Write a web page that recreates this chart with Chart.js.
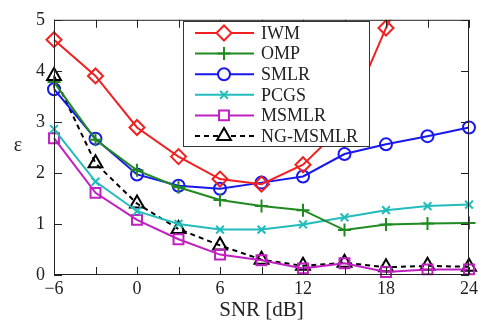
<!DOCTYPE html>
<html>
<head>
<meta charset="utf-8">
<script src="https://cdn.jsdelivr.net/npm/chart.js@4"></script>
<style>
  body { margin: 0; background: #fff; }
  #chart { display: block; }
</style>
</head>
<body>
<canvas id="chart" width="482" height="323"></canvas>
<script>
// SNR values (dB)
const snr = [-6, -3, 0, 3, 6, 9, 12, 15, 18, 21, 24];

// error per method
const iwm     = [4.61, 3.90, 2.89, 2.32, 1.88, 1.78, 2.16, 2.95, 4.84, 6.5, 8.0];
const omp     = [3.78, 2.65, 2.05, 1.72, 1.47, 1.35, 1.27, 0.88, 0.99, 1.01, 1.02];
const smlr    = [3.64, 2.67, 1.97, 1.75, 1.69, 1.81, 1.93, 2.37, 2.56, 2.72, 2.89];
const pcgs    = [2.86, 1.83, 1.25, 1.00, 0.89, 0.89, 0.99, 1.13, 1.27, 1.35, 1.38];
const msmlr   = [2.68, 1.61, 1.08, 0.70, 0.40, 0.29, 0.13, 0.23, 0.06, 0.11, 0.11];
const ngmsmlr = [3.90, 2.19, 1.40, 0.90, 0.58, 0.30, 0.18, 0.24, 0.15, 0.18, 0.16];

const xTicks = [-6, 0, 6, 12, 18, 24];
const yTicks = [0, 1, 2, 3, 4, 5];

const FONT = '"Liberation Serif", "DejaVu Serif", serif';

function series(label, values, color, style, radius, dash) {
    return {
        label: label,
        data: values.map((v, i) => ({ x: snr[i], y: v })),
        borderColor: color,
        backgroundColor: 'rgba(0,0,0,0)',
        borderWidth: 2,
        borderDash: dash || [],
        pointStyle: style,
        pointRadius: radius,
        pointBorderColor: color,
        pointBorderWidth: 2,
        pointBackgroundColor: 'rgba(0,0,0,0)',
        tension: 0,
        // keep markers on the frame visible, cut only at the top
        clip: { left: 12, right: 12, bottom: 12, top: 0 }
    };
}

const datasets = [
    series('IWM', iwm, '#f22020', 'rectRot', 7.5),
    series('OMP', omp, '#1f8a1f', 'cross', 6.5),
    series('SMLR', smlr, '#1818ee', 'circle', 6),
    series('PCGS', pcgs, '#22bcbc', 'crossRot', 5.5),
    series('MSMLR', msmlr, '#c020c0', 'rect', 7),
    series('NG-MSMLR', ngmsmlr, '#000000', 'triangle', 8, [5, 4])
];

// frame, inward ticks, epsilon label and the boxed legend
const decorations = {
    id: 'decorations',
    afterDraw(chart) {
        const ctx = chart.ctx;
        const a = chart.chartArea;
        const xs = chart.scales.x, ys = chart.scales.y;
        ctx.save();
        ctx.strokeStyle = '#222';
        ctx.lineWidth = 1;
        ctx.setLineDash([]);
        ctx.strokeRect(a.left + 0.5, a.top + 0.5, a.right - a.left - 1, a.bottom - a.top - 1);
        ctx.beginPath();
        for (let v = -6; v <= 24; v += 3) {
            const px = Math.round(xs.getPixelForValue(v)) + 0.5;
            ctx.moveTo(px, a.bottom); ctx.lineTo(px, a.bottom - 8);
            ctx.moveTo(px, a.top); ctx.lineTo(px, a.top + 8);
        }
        yTicks.forEach(v => {
            const py = Math.round(ys.getPixelForValue(v)) + 0.5;
            ctx.moveTo(a.left, py); ctx.lineTo(a.left + 8, py);
            ctx.moveTo(a.right, py); ctx.lineTo(a.right - 8, py);
        });
        ctx.stroke();

        ctx.fillStyle = '#222';
        ctx.font = '20px ' + FONT;
        ctx.textAlign = 'center';
        ctx.textBaseline = 'middle';
        ctx.fillText('\u03B5', 18, 146);

        // legend
        const lx = 183, ly = 21, lw = 186, lh = 125;
        ctx.fillStyle = '#fff';
        ctx.fillRect(lx, ly, lw, lh);
        ctx.strokeStyle = '#333';
        ctx.lineWidth = 1;
        ctx.strokeRect(lx + 0.5, ly + 0.5, lw, lh);
        ctx.font = '18px ' + FONT;
        ctx.textAlign = 'left';
        chart.data.datasets.forEach((ds, i) => {
            const y = ly + 12 + i * 20.6;
            ctx.strokeStyle = ds.borderColor;
            ctx.lineWidth = 2;
            ctx.setLineDash(ds.borderDash);
            ctx.beginPath();
            ctx.moveTo(lx + 12, y);
            ctx.lineTo(lx + 71, y);
            ctx.stroke();
            ctx.setLineDash([]);
            ctx.fillStyle = '#fff';
            Chart.helpers.drawPoint(ctx, {
                pointStyle: ds.pointStyle,
                radius: ds.pointRadius,
                rotation: 0,
                borderWidth: 2
            }, lx + 41, y);
            ctx.fillStyle = '#222';
            ctx.fillText(ds.label, lx + 78, y + 1);
        });
        ctx.restore();
    }
};

new Chart(document.getElementById('chart'), {
    type: 'line',
    data: { datasets: datasets },
    options: {
        responsive: false,
        animation: false,
        layout: { padding: { top: 13, right: 13, left: 0, bottom: 0 } },
        plugins: {
            legend: { display: false },
            tooltip: { enabled: false }
        },
        scales: {
            x: {
                type: 'linear',
                min: -6,
                max: 24,
                afterBuildTicks: s => { s.ticks = xTicks.map(v => ({ value: v })); },
                afterFit: s => { s.height = 48; },
                ticks: {
                    padding: 3,
                    color: '#222',
                    font: { family: FONT, size: 18 },
                    callback: v => String(v).replace('-', '\u2212')
                },
                grid: { display: false, drawTicks: false },
                border: { display: false },
                title: {
                    display: true,
                    text: 'SNR [dB]',
                    color: '#222',
                    font: { family: FONT, size: 21 },
                    padding: { top: 0, bottom: 0 }
                }
            },
            y: {
                min: 0,
                max: 5,
                afterBuildTicks: s => { s.ticks = yTicks.map(v => ({ value: v })); },
                afterFit: s => { s.width = 54; },
                ticks: {
                    padding: 9,
                    color: '#222',
                    font: { family: FONT, size: 18 }
                },
                grid: { display: false, drawTicks: false },
                border: { display: false }
            }
        }
    },
    plugins: [decorations]
});
</script>
</body>
</html>
